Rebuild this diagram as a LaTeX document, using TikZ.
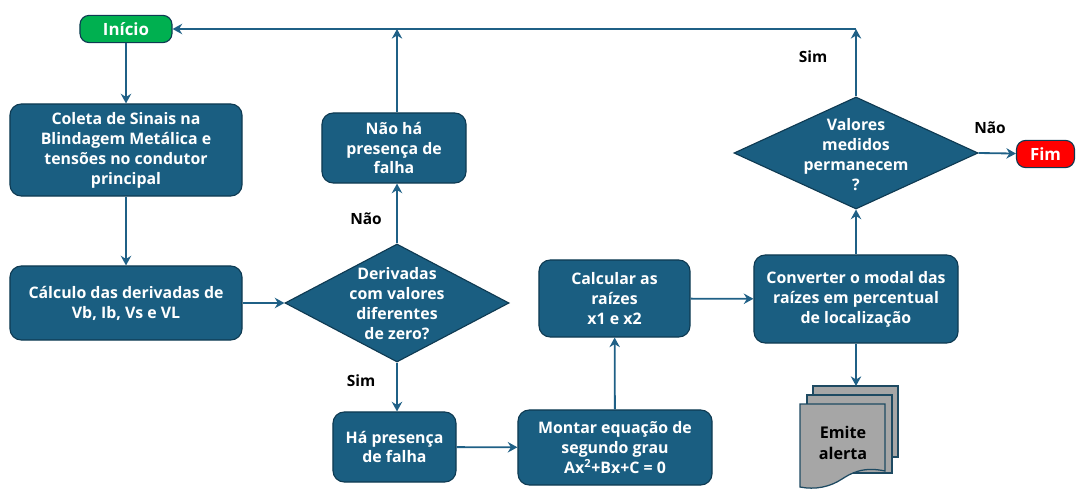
\documentclass[tikz,border=0pt]{standalone}
\usepackage{fontspec}
\setmainfont{Open Sans}
\usetikzlibrary{arrows.meta,positioning,shapes.geometric}
\definecolor{boxfill}{HTML}{1A5E81}
\definecolor{boxline}{HTML}{0E3A52}
\definecolor{flow}{HTML}{1F6086}
\definecolor{startgreen}{HTML}{00B050}
\definecolor{endred}{HTML}{FF0000}
\definecolor{sheet}{HTML}{A6A6A6}
\definecolor{sheetline}{HTML}{1E4A62}
\tikzset{
  procbox/.style={draw=boxline,fill=boxfill,line width=0.8pt,rounded corners=8pt,align=center,
    text=white,font=\fontsize{11.3}{14.2}\selectfont\bfseries,inner sep=1pt},
  decbox/.style={diamond,draw=boxline,fill=boxfill,line width=0.8pt,inner sep=0pt},
  dectext/.style={align=center,text=white,font=\fontsize{11.3}{14.2}\selectfont\bfseries},
  termbox/.style={draw=boxline,line width=0.8pt,rounded corners=6.5pt,text=white,
    font=\fontsize{12}{13}\selectfont\bfseries,minimum height=0.68cm,inner sep=0pt},
  flowarrow/.style={-{Stealth[length=2.4mm,width=2.6mm]},line width=1.3pt,draw=flow},
  answer/.style={font=\fontsize{11}{13}\selectfont\bfseries,text=black},
  sheetbox/.style={draw=sheetline,fill=sheet,line width=0.9pt}
}
\begin{document}
\begin{tikzpicture}[x=0.025cm,y=-0.025cm]
  \useasboundingbox (0,0) rectangle (1076,492);
  % terminais
  \node[termbox,fill=startgreen,minimum width=2.3cm] (inicio) at (126,29) {Início};
  \node[termbox,fill=endred,minimum width=1.45cm] (fim) at (1045.5,154) {Fim};
  % processos
  \node[procbox,minimum width=5.8cm,minimum height=2.3cm] (coleta) at (126,150)
    {Coleta de Sinais na\\Blindagem Metálica e\\tensões no condutor\\principal};
  \node[procbox,minimum width=5.8cm,minimum height=1.85cm] (calculo) at (126,303)
    {Cálculo das derivadas de\\Vb, Ib, Vs e VL};
  \node[procbox,minimum width=3.6cm,minimum height=1.75cm] (naoha) at (394,148)
    {Não há\\presença de\\falha};
  \node[procbox,minimum width=3.075cm,minimum height=1.75cm] (ha) at (394.5,447)
    {Há presença\\de falha};
  \node[procbox,minimum width=4.85cm,minimum height=1.875cm] (montar) at (615,447.5)
    {Montar equação de\\segundo grau\\Ax\textsuperscript{2}+Bx+C = 0};
  \node[procbox,minimum width=3.775cm,minimum height=1.925cm] (raizes) at (614.5,298.5)
    {Calcular as\\raízes\\x1 e x2};
  \node[procbox,minimum width=5.1cm,minimum height=2.2cm] (converter) at (856,299)
    {Converter o modal das\\raízes em percentual\\de localização};
  % decisoes
  \node[decbox,minimum width=5.6cm,minimum height=2.95cm] (deriv) at (397,303) {};
  \node[dectext] (derivtxt) at (397,304) {Derivadas\\com valores\\diferentes\\de zero?};
  \node[decbox,minimum width=6.1cm,minimum height=2.8cm] (valores) at (856,153) {};
  \node[dectext] (valorestxt) at (856,155) {Valores\\medidos\\permanecem\\?};
  % alerta (varios documentos)
  \draw[sheetbox] (813,386) rectangle (898,457);
  \draw[sheetbox] (807,395) rectangle (892,473);
  \draw[sheetbox] (800,404) -- (885,404) -- (885,471)
    .. controls (862,466) and (850,474) .. (842,479)
    .. controls (830,487) and (815,490) .. (800,487) -- cycle;
  \coordinate (alertatop) at (856,386);
  \node[font=\fontsize{11.5}{15}\selectfont\bfseries,align=center] (alerta) at (843,443) {Emite\\alerta};
  % ligacoes
  \draw[flowarrow] (inicio) -- (coleta);
  \draw[flowarrow] (coleta) -- (calculo);
  \draw[flowarrow] (calculo.east) -- (deriv.west);
  \draw[flowarrow] (deriv.north) -- (naoha.south -| deriv.north);
  \draw[flowarrow] (deriv.south) -- (ha.north -| deriv.south);
  \draw[flowarrow] (ha) -- (montar);
  \draw[flowarrow] (montar) -- (raizes);
  \draw[flowarrow] (raizes) -- (converter);
  \draw[flowarrow] (converter) -- (valores.south);
  \draw[flowarrow] (converter) -- (alertatop);
  \draw[flowarrow] (valores.east) -- (fim);
  \coordinate (volta) at (856,29);
  \draw[flowarrow] (valores.north) -- (volta);
  \draw[flowarrow] (volta) -- (inicio);
  \draw[flowarrow] (naoha.north -| deriv.north) -- (inicio.east -| deriv.north);
  % respostas
  \node[answer] (nao1) at (366,219) {Não};
  \node[answer] (sim1) at (361,381) {Sim};
  \node[answer] (sim2) at (813,57) {Sim};
  \node[answer] (nao2) at (990,128) {Não};
\end{tikzpicture}
\end{document}
